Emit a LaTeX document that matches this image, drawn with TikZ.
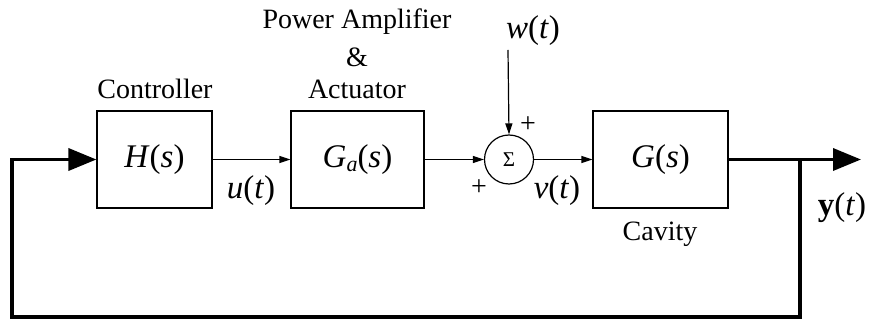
\documentclass[tikz,border=0pt]{standalone}
\usepackage{fontspec}
\setmainfont{Liberation Serif}
\usetikzlibrary{arrows.meta}
\newcommand{\iv}[1]{\textit{#1}}
\begin{document}
\begin{tikzpicture}[x=1pt,y=-1pt,
  blk/.style={draw,line width=1.2pt,minimum width=#1,minimum height=97pt,inner sep=0pt},
  sig/.style={line width=1.2pt,-{Triangle[length=11pt,width=7pt]}},
  thk/.style={line width=3.6pt},
  thkarr/.style={line width=3.6pt,-{Triangle[length=28pt,width=22pt]}},
  lbl/.style={font=\fontsize{28}{30}\selectfont,inner sep=0pt},
  mth/.style={font=\fontsize{33}{36}\selectfont,inner sep=0pt}]
\useasboundingbox (0,0) rectangle (875,320);
\node[blk=115pt,mth] (H) at (154.5,159.5) {\iv{H}(\iv{s})};
\node[blk=133pt,mth] (Ga) at (357.5,159.5) {\iv{G}\raisebox{-0.3ex}{\fontsize{22}{22}\selectfont\iv{a}}(\iv{s})};
\node[blk=135pt,mth] (G) at (660.5,159.5) {\iv{G}(\iv{s})};
\node[draw,circle,line width=1.2pt,minimum size=49pt,inner sep=0pt,font=\fontsize{21}{22}\selectfont] (S) at (509,159.5) {Σ};
\node[lbl] (ctrl) at (155,89) {Controller};
\node[lbl] (pa) at (357,22) {Power Amplifier};
\node[lbl] (amp) at (357,57) {\&};
\node[lbl] (act) at (357,89) {Actuator};
\node[lbl] (cav) at (660,234) {Cavity};
\node[mth] (w) at (533,31) {\iv{w}(\iv{t})};
\node[mth] (u) at (251,191) {\iv{u}(\iv{t})};
\node[mth] (v) at (557,191) {\iv{v}(\iv{t})};
\node[mth] (y) at (842,208) {\textbf{y}(\iv{t})};
\node[lbl] (p1) at (528,125) {+};
\node[lbl] (p2) at (479,188) {+};
\coordinate (wtop) at (508,50);
\coordinate (br) at (800,159.5);
\coordinate (out) at (861,159.5);
\coordinate (bl) at (12,317);
\coordinate (tl) at (12,159.5);
\draw[sig] (H.east) -- (Ga.west);
\draw[sig] (Ga.east) -- (S.west);
\draw[sig] (S.east) -- (G.west);
\draw[sig] (wtop) -- (S.north);
\draw[thkarr] (G.east) -- (out);
\draw[thk,line join=miter] (br) |- (bl) -- (tl);
\draw[thkarr] ([xshift=-1.8pt]tl) -- (H.west);
\end{tikzpicture}
\end{document}
